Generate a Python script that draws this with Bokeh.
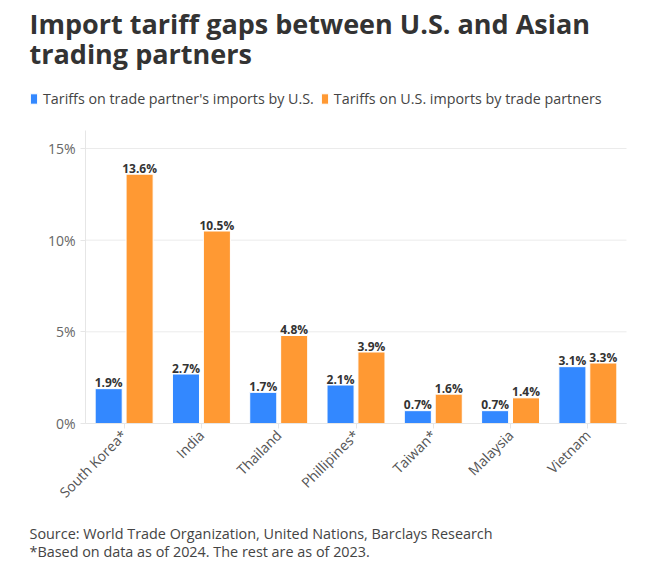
import math
from bokeh.plotting import figure
from bokeh.models import (Range1d, ColumnDataSource, Legend, LegendItem, Label,
                          FixedTicker, PrintfTickFormatter)
from bokeh.transform import dodge
from bokeh.core.properties import value
from bokeh.embed import file_html
from bokeh.resources import INLINE

# ---- data ----
countries = ["South Korea*", "India", "Thailand", "Phillipines*", "Taiwan*", "Malaysia", "Vietnam"]
us_tariffs = [1.9, 2.7, 1.7, 2.1, 0.7, 0.7, 3.1]
partner_tariffs = [13.6, 10.5, 4.8, 3.9, 1.6, 1.4, 3.3]
y_ticks = [0, 5, 10, 15]
series_names = ["Tariffs on trade partner's imports by U.S.", "Tariffs on U.S. imports by trade partners"]
title_lines = ["Import tariff gaps between U.S. and Asian", "trading partners"]
footer_lines = ["Source: World Trade Organization, United Nations, Barclays Research",
                "*Based on data as of 2024. The rest are as of 2023."]

BLUE = "#3388ff"
ORANGE = "#ff9933"
FONT = "Open Sans"
W, H = 654, 575

# plot-area geometry (pixels): category axis from x=85 to x=626, value axis 0 at y=423, 15 at y=148
n = len(countries)
px_per_cat = (626 - 85) / n
px_per_pct = (423 - 148) / 15
x_start = -85 / px_per_cat
x_end = n + (W - 626) / px_per_cat
y_start = -(H - 423) / px_per_pct
y_end = 423 / px_per_pct

positions = [i + 0.5 for i in range(n)]  # category centres
src = ColumnDataSource(dict(
    pos=positions,
    us=us_tariffs,
    partner=partner_tariffs,
    us_lbl=[f"{v:.1f}%" for v in us_tariffs],
    partner_lbl=[f"{v:.1f}%" for v in partner_tariffs],
))

p = figure(width=W, height=H, x_range=Range1d(x_start, x_end), y_range=Range1d(y_start, y_end),
           output_backend="svg", toolbar_location=None, min_border=0,
           min_border_left=0, min_border_right=0, min_border_top=0, min_border_bottom=0)
p.outline_line_color = None
p.background_fill_color = "white"
p.border_fill_color = "white"
p.grid.grid_line_color = None

# horizontal gridlines spanning the category axis only
p.segment(x0=[0] * len(y_ticks), x1=[n] * len(y_ticks), y0=y_ticks, y1=y_ticks,
          line_color="#ebebeb", line_width=1)

r_us = p.vbar(x=dodge("pos", -0.2), top="us", width=0.35, source=src,
              fill_color=BLUE, line_color="white", line_width=1)
r_pa = p.vbar(x=dodge("pos", 0.2), top="partner", width=0.35, source=src,
              fill_color=ORANGE, line_color="white", line_width=1)

for col, ycol, off in (("us_lbl", "us", -0.2), ("partner_lbl", "partner", 0.2)):
    p.text(x=dodge("pos", off), y=ycol, text=col, source=src,
           text_align="center", text_baseline="alphabetic", y_offset=-6,
           text_font=value(FONT), text_font_style="bold", text_font_size="12px",
           text_color="#333333")

# value axis, drawn at the left edge of the category axis
p.yaxis.fixed_location = 0
p.yaxis.bounds = (0, 16)
p.yaxis.ticker = FixedTicker(ticks=y_ticks)
p.yaxis.formatter = PrintfTickFormatter(format="%d%%")
p.yaxis.axis_line_color = "#e6e6e6"
p.yaxis.major_tick_line_color = "#e6e6e6"
p.yaxis.major_tick_out = 5
p.yaxis.major_tick_in = 0
p.yaxis.minor_tick_line_color = None
p.yaxis.major_label_text_font = FONT
p.yaxis.major_label_text_font_size = "14px"
p.yaxis.major_label_text_color = "#666666"
p.yaxis.major_label_standoff = 5

# category axis at 0 %
p.xaxis.fixed_location = 0
p.xaxis.bounds = (0, n)
p.xaxis.ticker = FixedTicker(ticks=positions)
p.xaxis.major_label_overrides = {pos: name for pos, name in zip(positions, countries)}
p.xaxis.axis_line_color = "#e6e6e6"
p.xaxis.major_tick_line_color = "#e6e6e6"
p.xaxis.major_tick_out = 5
p.xaxis.major_tick_in = 0
p.xaxis.minor_tick_line_color = None
p.xaxis.major_label_orientation = math.pi / 4
p.xaxis.major_label_text_font = FONT
p.xaxis.major_label_text_font_size = "14px"
p.xaxis.major_label_text_color = "#555555"
p.xaxis.major_label_standoff = 4

# legend
legend = Legend(items=[LegendItem(label=series_names[0], renderers=[r_us]),
                       LegendItem(label=series_names[1], renderers=[r_pa])],
                orientation="horizontal", location=(29, H - 108), padding=0, margin=0,
                spacing=6, label_standoff=5, glyph_width=9, glyph_height=13, label_height=19,
                border_line_color=None, background_fill_alpha=0,
                label_text_font=FONT, label_text_font_size="14.3px", label_text_color="#444444")
p.add_layout(legend, "center")

# title
for i, t in enumerate(title_lines):
    p.add_layout(Label(x=29, y=H - 23 - 30 * i, x_units="screen", y_units="screen", text=t,
                       text_font=FONT, text_font_style="bold", text_font_size="27px",
                       text_color="#333333", text_baseline="alphabetic"))

# footer
for i, t in enumerate(footer_lines):
    p.add_layout(Label(x=29, y=H - 533 - 18 * i, x_units="screen", y_units="screen", text=t,
                       text_font=FONT, text_font_size="14.4px",
                       text_color="#444444", text_baseline="alphabetic"))

open("out.html", "w").write(file_html(p, INLINE))
